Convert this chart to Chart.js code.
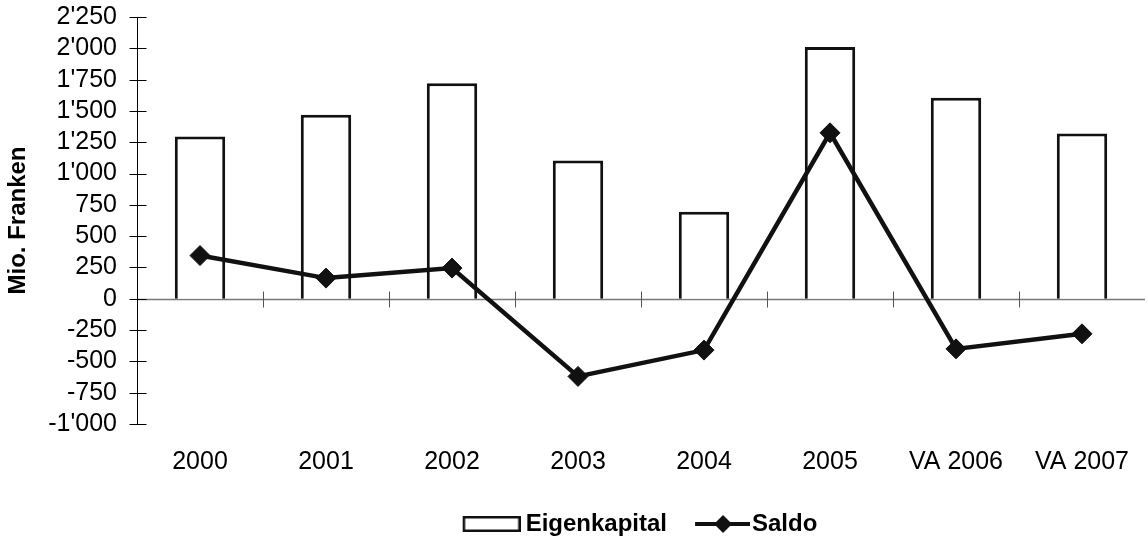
<!DOCTYPE html>
<html>
<head>
<meta charset="utf-8">
<script src="https://cdn.jsdelivr.net/npm/chart.js@4"></script>
<style>
  html, body { margin: 0; padding: 0; background: #fff; overflow: hidden; }
  #wrap { width: 1156px; height: 542px; }
</style>
</head>
<body>
<div id="wrap"><canvas id="chart"></canvas></div>
<script>
const categories = ['2000', '2001', '2002', '2003', '2004', '2005', 'VA 2006', 'VA 2007'];
const eigenkapital = [1295, 1470, 1720, 1105, 695, 2010, 1605, 1320];
const saldo = [345, 165, 245, -620, -410, 1325, -400, -280];
const yMin = -1000, yMax = 2250, yStep = 250;

const FONT = "'Liberation Sans', Arial, sans-serif";

function formatCH(v) {
    return String(v).replace(/\B(?=(\d{3})+(?!\d))/g, "'");
}

// legend symbols (drawn as images, offset so the text sits close to them)
function makeBoxIcon() {
    const c = document.createElement('canvas');
    c.width = 63; c.height = 16;
    const g = c.getContext('2d');
    g.fillStyle = '#fff';
    g.fillRect(5, 1, 58, 14);
    g.strokeStyle = '#111';
    g.lineWidth = 2.5;
    g.strokeRect(6.25, 1.25, 55.5, 13.5);
    return c;
}

function makeLineIcon() {
    const c = document.createElement('canvas');
    c.width = 69; c.height = 20;
    const g = c.getContext('2d');
    g.strokeStyle = '#111';
    g.lineWidth = 4;
    g.beginPath();
    g.moveTo(14, 10);
    g.lineTo(69, 10);
    g.stroke();
    g.fillStyle = '#111';
    g.beginPath();
    g.moveTo(42, 1);
    g.lineTo(51, 10);
    g.lineTo(42, 19);
    g.lineTo(33, 10);
    g.closePath();
    g.fill();
    return c;
}

// axis lines with crossing ticks, like the original
const axesPlugin = {
    id: 'axesPlugin',
    beforeDatasetsDraw(chart) {
        const {ctx, chartArea} = chart;
        const x = chart.scales.x, y = chart.scales.y;
        const ax = Math.round(chartArea.left) + 0.5;
        const zeroY = Math.round(y.getPixelForValue(0)) + 0.5;
        ctx.save();
        // zero line
        ctx.strokeStyle = '#777';
        ctx.lineWidth = 1.5;
        ctx.beginPath();
        ctx.moveTo(ax, zeroY);
        ctx.lineTo(chartArea.right, zeroY);
        ctx.stroke();
        // category ticks
        ctx.lineWidth = 1;
        ctx.strokeStyle = '#555';
        for (let i = 0; i < categories.length - 1; i++) {
            const bx = Math.round((x.getPixelForValue(i) + x.getPixelForValue(i + 1)) / 2) + 0.5;
            ctx.beginPath();
            ctx.moveTo(bx, zeroY - 8);
            ctx.lineTo(bx, zeroY + 8);
            ctx.stroke();
        }
        // y axis
        ctx.strokeStyle = '#000';
        ctx.lineWidth = 1;
        ctx.beginPath();
        ctx.moveTo(ax, y.getPixelForValue(yMax));
        ctx.lineTo(ax, y.getPixelForValue(yMin));
        ctx.stroke();
        y.ticks.forEach(t => {
            const ty = Math.round(y.getPixelForValue(t.value)) + 0.5;
            ctx.beginPath();
            ctx.moveTo(ax - 8, ty);
            ctx.lineTo(ax + 9, ty);
            ctx.stroke();
        });
        ctx.restore();
    }
};

const boxIcon = makeBoxIcon();
const lineIcon = makeLineIcon();

new Chart(document.getElementById('chart'), {
    data: {
        labels: categories,
        datasets: [
            {
                type: 'line',
                label: 'Saldo',
                data: saldo,
                borderColor: '#111',
                backgroundColor: '#111',
                borderWidth: 4.5,
                pointStyle: 'rectRot',
                pointRadius: 10,
                pointBorderWidth: 1,
                tension: 0,
                order: 0
            },
            {
                type: 'bar',
                label: 'Eigenkapital',
                data: eigenkapital,
                backgroundColor: '#fff',
                borderColor: '#111',
                borderWidth: 3,
                barPercentage: 0.40,
                categoryPercentage: 1.0,
                order: 1
            }
        ]
    },
    options: {
        responsive: true,
        maintainAspectRatio: false,
        animation: false,
        layout: { padding: { top: 0, right: 1, left: 0, bottom: -4 } },
        plugins: {
            tooltip: { enabled: false },
            legend: {
                position: 'bottom',
                fullSize: false,
                labels: {
                    usePointStyle: true,
                    pointStyleWidth: 49,
                    padding: 24,
                    color: '#000',
                    font: { family: FONT, size: 24, weight: 'bold' },
                    generateLabels: () => [
                        { text: 'Eigenkapital', pointStyle: boxIcon, fillStyle: '#fff', strokeStyle: '#111', lineWidth: 0, datasetIndex: 1 },
                        { text: 'Saldo', pointStyle: lineIcon, fillStyle: '#111', strokeStyle: '#111', lineWidth: 0, datasetIndex: 0 }
                    ]
                }
            }
        },
        scales: {
            x: {
                grid: { display: false, drawTicks: false },
                border: { display: false },
                ticks: {
                    color: '#000',
                    padding: 23,
                    font: { family: FONT, size: 25 },
                    maxRotation: 0,
                    autoSkip: false
                },
                afterFit: (scale) => { scale.height = 64; }
            },
            y: {
                min: yMin,
                max: yMax,
                grid: { display: false, drawTicks: true, tickLength: 18 },
                border: { display: false },
                ticks: {
                    stepSize: yStep,
                    autoSkip: false,
                    color: '#000',
                    padding: 2,
                    font: { family: FONT, size: 25 },
                    callback: (v) => formatCH(v)
                },
                title: {
                    display: true,
                    text: 'Mio. Franken',
                    color: '#000',
                    padding: { top: 4, bottom: 0 },
                    font: { family: FONT, size: 24, weight: 'bold' }
                },
                afterFit: (scale) => { scale.width = 137; }
            }
        }
    },
    plugins: [axesPlugin]
});
</script>
</body>
</html>
